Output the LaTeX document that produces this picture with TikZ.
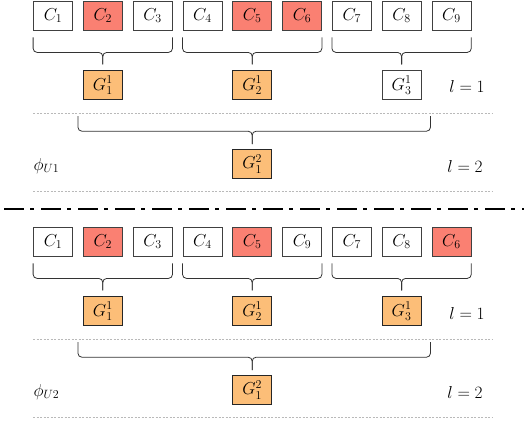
\documentclass[tikz,border=0pt]{standalone}
\usepackage{xcolor}
\usepackage{tikz}
\usetikzlibrary{positioning}
\definecolor{hotred}{RGB}{250,128,114}
\definecolor{grouporange}{RGB}{252,190,120}

\begin{document}
\begin{tikzpicture}[x=1pt, y=-1pt, font=\LARGE,
  cbox/.style={draw=black!75, line width=0.8pt, minimum width=39pt, minimum height=29pt, inner sep=0pt},
  hot/.style={cbox, fill=hotred},
  gbox/.style={cbox, draw=black!85, fill=grouporange},
  grpbrace/.style={draw=black!80, line width=0.8pt, rounded corners=4pt},
  levelsep/.style={draw=gray!55, line width=0.6pt, dash pattern=on 2pt off 1.5pt}]
  \useasboundingbox (0,0) rectangle (524,421);

  % upper partition
  \node[cbox] (t1) at (53,15.5) {$C_1$};
  \node[hot, right=10pt of t1] (t2) {$C_2$};
  \node[cbox, right=10pt of t2] (t3) {$C_3$};
  \node[cbox, right=10pt of t3] (t4) {$C_4$};
  \node[hot, right=10pt of t4] (t5) {$C_5$};
  \node[hot, right=10pt of t5] (t6) {$C_6$};
  \node[cbox, right=10pt of t6] (t7) {$C_7$};
  \node[cbox, right=10pt of t7] (t8) {$C_8$};
  \node[cbox, right=10pt of t8] (t9) {$C_9$};

  \node[gbox, below=40pt of t2] (tg1) {$G_1^1$};
  \node[gbox, below=40pt of t5] (tg2) {$G_2^1$};
  \node[cbox, below=40pt of t8] (tg3) {$G_3^1$};
  \node[gbox, below=49pt of tg2] (tgtop) {$G_1^2$};

  \node (tlev1) at (467,86) {$l = 1$};
  \node (tlev2) at (465,166) {$l = 2$};
  \node[anchor=west] (tphi) at (30,166) {$\phi_{U1}$};

  \draw[grpbrace] ([yshift=-7pt]t1.south west) |- ([yshift=-22pt]t1.south -| tg1) -- ([yshift=6pt]tg1.north);
  \draw[grpbrace] ([yshift=-7pt]t3.south east) |- ([yshift=-22pt]t3.south -| tg1) -- ([yshift=6pt]tg1.north);
  \draw[grpbrace] ([yshift=-7pt]t4.south west) |- ([yshift=-22pt]t4.south -| tg2) -- ([yshift=6pt]tg2.north);
  \draw[grpbrace] ([yshift=-7pt]t6.south east) |- ([yshift=-22pt]t6.south -| tg2) -- ([yshift=6pt]tg2.north);
  \draw[grpbrace] ([yshift=-7pt]t7.south west) |- ([yshift=-22pt]t7.south -| tg3) -- ([yshift=6pt]tg3.north);
  \draw[grpbrace] ([yshift=-7pt]t9.south east) |- ([yshift=-22pt]t9.south -| tg3) -- ([yshift=6pt]tg3.north);
  \draw[grpbrace] ([xshift=-5pt,yshift=-16pt]tg1.south west) |- ([yshift=-31pt]tg1.south -| tgtop) -- ([yshift=5pt]tgtop.north);
  \draw[grpbrace] ([xshift=9pt,yshift=-16pt]tg3.south east) |- ([yshift=-31pt]tg3.south -| tgtop) -- ([yshift=5pt]tgtop.north);

  \draw[levelsep] (33,113) -- (492,113);
  \draw[levelsep] (33,191) -- (492,191);

  % split between the two partitions
  \draw[line width=2.5pt, dash pattern=on 20pt off 6pt on 4pt off 7pt, dash phase=-4pt] (0,209) -- (524,209);

  % lower partition
  \node[cbox] (b1) at (53,241.5) {$C_1$};
  \node[hot, right=10pt of b1] (b2) {$C_2$};
  \node[cbox, right=10pt of b2] (b3) {$C_3$};
  \node[cbox, right=10pt of b3] (b4) {$C_4$};
  \node[hot, right=10pt of b4] (b5) {$C_5$};
  \node[cbox, right=10pt of b5] (b6) {$C_9$};
  \node[cbox, right=10pt of b6] (b7) {$C_7$};
  \node[cbox, right=10pt of b7] (b8) {$C_8$};
  \node[hot, right=10pt of b8] (b9) {$C_6$};

  \node[gbox, below=40pt of b2] (bg1) {$G_1^1$};
  \node[gbox, below=40pt of b5] (bg2) {$G_2^1$};
  \node[gbox, below=40pt of b8] (bg3) {$G_3^1$};
  \node[gbox, below=49pt of bg2] (bgtop) {$G_1^2$};

  \node (blev1) at (467,313) {$l = 1$};
  \node (blev2) at (465,392) {$l = 2$};
  \node[anchor=west] (bphi) at (30,392) {$\phi_{U2}$};

  \draw[grpbrace] ([yshift=-7pt]b1.south west) |- ([yshift=-22pt]b1.south -| bg1) -- ([yshift=6pt]bg1.north);
  \draw[grpbrace] ([yshift=-7pt]b3.south east) |- ([yshift=-22pt]b3.south -| bg1) -- ([yshift=6pt]bg1.north);
  \draw[grpbrace] ([yshift=-7pt]b4.south west) |- ([yshift=-22pt]b4.south -| bg2) -- ([yshift=6pt]bg2.north);
  \draw[grpbrace] ([yshift=-7pt]b6.south east) |- ([yshift=-22pt]b6.south -| bg2) -- ([yshift=6pt]bg2.north);
  \draw[grpbrace] ([yshift=-7pt]b7.south west) |- ([yshift=-22pt]b7.south -| bg3) -- ([yshift=6pt]bg3.north);
  \draw[grpbrace] ([yshift=-7pt]b9.south east) |- ([yshift=-22pt]b9.south -| bg3) -- ([yshift=6pt]bg3.north);
  \draw[grpbrace] ([xshift=-5pt,yshift=-16pt]bg1.south west) |- ([yshift=-31pt]bg1.south -| bgtop) -- ([yshift=5pt]bgtop.north);
  \draw[grpbrace] ([xshift=9pt,yshift=-16pt]bg3.south east) |- ([yshift=-31pt]bg3.south -| bgtop) -- ([yshift=5pt]bgtop.north);

  \draw[levelsep] (33,339) -- (492,339);
  \draw[levelsep] (33,417) -- (492,417);
\end{tikzpicture}
\end{document}
